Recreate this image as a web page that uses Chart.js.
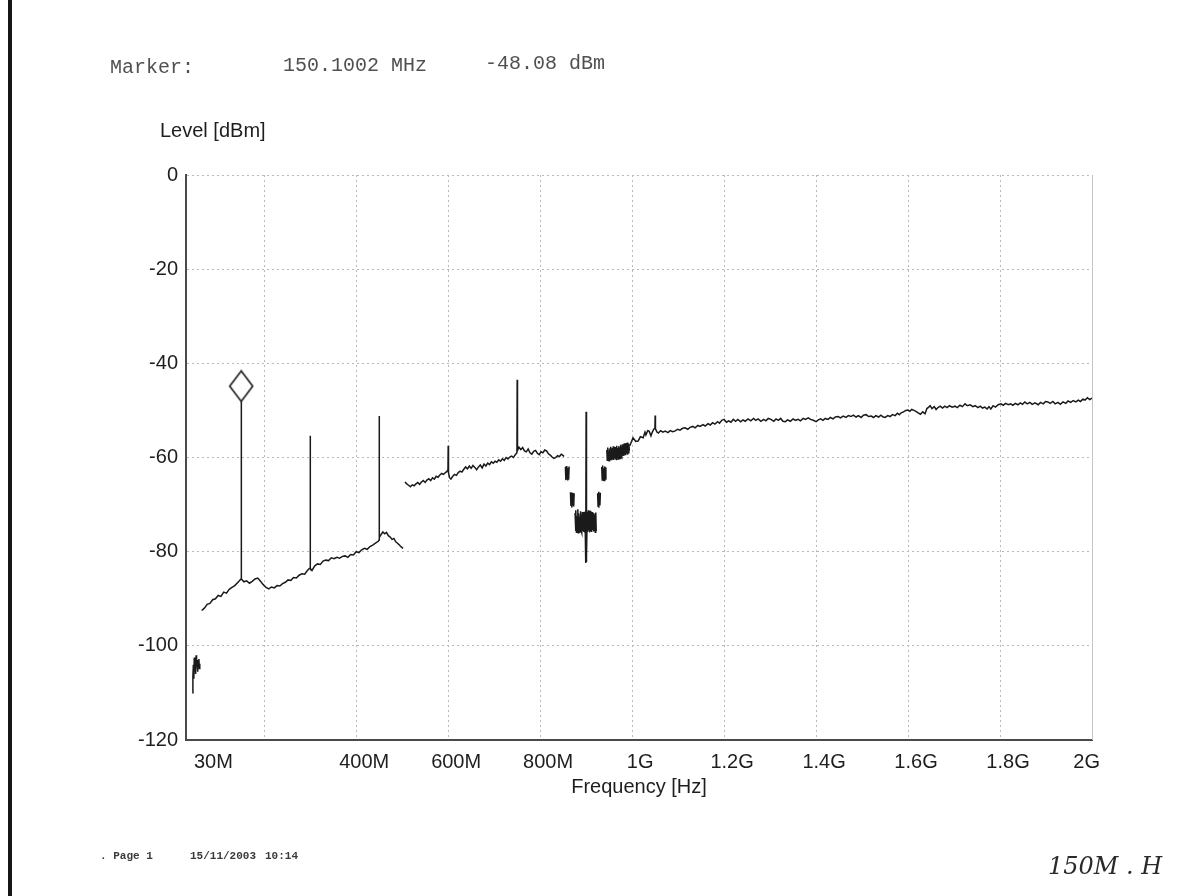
<!DOCTYPE html>
<html><head><meta charset="utf-8">
<script src="https://cdn.jsdelivr.net/npm/chart.js@4.4.1/dist/chart.umd.min.js"></script>
<style>html,body{margin:0;padding:0;background:#fff;}canvas{display:block;}</style>
</head><body>
<canvas id="c" width="1200" height="896"></canvas>
<script>
// ---- axis ticks ----
const xTickValues = [30,200,400,600,800,1000,1200,1400,1600,1800,2000];
const xTickLabels = ['30M','','400M','600M','800M','1G','1.2G','1.4G','1.6G','1.8G','2G'];
const yTickValues = [0,-20,-40,-60,-80,-100,-120];

// ---- marker ----
const markerFreq = [150.1002];
const markerLevel = [-48.08];

// ---- trace: short burst near start (MHz / dBm) ----
const blipFreq = [44,45,46,47,48,49,50,51,52,53,54,55,56,57,58,59,60];
const blipLevel = [-110,-106.5,-104,-107,-102.5,-105.5,-103,-106,-102,-104.5,-103,-105.5,-103.5,-104.5,-102.8,-104.8,-103.8];

// ---- trace: low band 60-500 MHz ----
const lowFreq = [
 64,70,76,82,88,94,100,106,112,118,
 124,130,136,142,146,149.6,150.1,150.6,156,162,
 168,174,180,186,192,198,204,210,216,222,
 228,234,240,246,252,258,264,270,276,282,
 288,294,298,299.7,300.1,300.5,304,310,316,322,
 328,334,340,346,352,358,364,370,376,382,
 388,394,400,406,412,418,424,430,436,442,
 448,449.7,450.1,450.5,454,458,462,466,470,474,
 478,482,486,490,494,498,502];
const lowLevel = [
 -92.5,-92.0,-91.2,-91.0,-90.2,-90.0,-89.3,-89.5,-88.6,-88.8,
 -88.0,-87.6,-87.2,-86.6,-86.2,-85.8,-48.08,-85.8,-86.4,-86.2,
 -86.7,-86.3,-85.8,-85.6,-86.3,-87.0,-87.6,-87.9,-87.5,-87.7,
 -87.2,-87.3,-86.8,-86.5,-86.0,-86.1,-85.5,-85.6,-85.0,-84.7,
 -84.8,-84.0,-83.6,-83.5,-55.4,-83.6,-84.0,-83.0,-82.6,-82.7,
 -82.0,-81.8,-81.9,-81.3,-81.5,-81.2,-81.4,-81.0,-80.9,-81.2,
 -80.6,-80.7,-80.0,-80.2,-79.6,-79.3,-79.5,-78.9,-78.6,-78.2,
 -77.8,-77.5,-51.2,-77.0,-76.4,-75.8,-76.2,-75.9,-76.6,-76.9,
 -77.4,-77.2,-77.9,-78.2,-78.6,-79.0,-79.3];

// ---- trace: mid band 500-852 MHz ----
const midFreq = [
 506,510,514,518,522,526,530,534,538,542,
 546,550,554,558,562,566,570,574,578,582,
 586,590,594,597,599.6,600.1,600.8,603,606,610,
 614,618,622,626,630,634,638,642,646,650,
 654,658,662,666,670,674,678,682,686,690,
 694,698,702,706,710,714,718,722,726,730,
 734,738,742,746,749.6,750.1,750.8,754,758,762,
 766,770,774,778,782,786,790,794,798,802,
 806,810,814,818,822,826,830,834,838,842,
 846,849,852];
const midLevel = [
 -65.2,-65.6,-65.9,-66.2,-65.8,-66.0,-65.6,-65.3,-65.7,-65.2,
 -64.9,-65.3,-64.8,-64.5,-64.9,-64.3,-64.6,-64.0,-64.2,-63.7,
 -63.4,-63.6,-63.2,-63.0,-62.6,-57.5,-63.2,-64.3,-64.6,-64.0,
 -63.6,-63.8,-63.2,-62.9,-63.1,-62.5,-62.0,-62.4,-61.8,-62.3,
 -61.7,-62.1,-62.6,-62.0,-61.6,-62.2,-61.4,-61.8,-61.2,-61.5,
 -60.9,-61.2,-60.8,-61.0,-60.5,-60.8,-60.3,-60.6,-60.0,-60.3,
 -59.9,-59.7,-60.0,-59.4,-59.0,-43.5,-58.5,-57.8,-58.3,-57.9,
 -58.6,-58.8,-58.2,-59.0,-59.3,-58.7,-58.5,-59.1,-59.4,-58.8,
 -59.0,-58.4,-58.6,-59.2,-59.5,-59.9,-60.2,-60.0,-59.6,-59.8,
 -59.3,-59.5,-59.8];

// ---- trace: notch 855-995 MHz, sampled in bursts (null = no trace) ----
const dipFreq = [
 854,855,856,857,858,859,860,861,862,863,864,
 865,866,867,868,869,870,871,872,873,874,875,
 876,877,878,879,880,881,882,883,884,885,886,887,888,889,
 890,891,892,893,894,895,896,897,898,898.6,
 899.2,899.7,900,900.3,900.8,901.4,902,903,904,905,
 906,907,908,909,910,911,912,913,914,915,
 916,917,918,919,920,921,922,923,
 924,925,926,927,928,929,930,931,932,
 933,934,935,936,937,938,939,940,941,942,943,944,
 945,946,947,948,949,950,951,952,953,954,
 955,956,957,958,959,960,961,962,963,964,
 965,966,967,968,969,970,971,972,973,974,
 975,976,977,978,979,980,981,982,983,984,
 985,986,987,988,989,990,991,992,993,994];
const dipLevel = [
 null,-62.0,-64.8,-61.8,-64.6,-62.2,-64.9,-62.5,-64.7,-61.9,null,
 null,-67.4,-70.3,-67.8,-70.6,-67.5,-70.2,-68.0,-70.4,-67.6,null,
 -71.8,-75.6,-71.2,-75.9,-72.4,-75.4,-71.0,-76.0,-71.9,-75.7,-72.6,-75.8,-71.4,-75.5,
 -72.1,-76.0,-71.6,-75.6,-72.3,-75.8,-71.5,-75.9,-74.5,-81.5,
 -77.5,-82.4,-50.3,-82.2,-78.0,-81.0,-74.0,-71.5,-75.8,-71.2,
 -75.5,-72.2,-75.9,-71.3,-75.6,-72.0,-75.8,-71.6,-75.4,-72.4,
 -75.7,-71.8,-75.5,-72.1,-75.9,-71.7,-75.6,null,
 null,-67.6,-70.4,-67.3,-70.5,-67.9,-70.2,-67.5,null,
 null,-62.0,-64.8,-61.7,-64.6,-62.3,-64.9,-61.9,-64.5,-62.1,-64.7,null,
 -58.4,-60.6,-57.9,-60.3,-58.6,-60.7,-58.1,-60.4,-57.7,-60.2,
 -58.5,-60.6,-58.0,-60.3,-57.6,-60.5,-58.3,-60.1,-57.8,-60.4,
 -58.2,-60.6,-57.5,-60.0,-58.0,-60.3,-57.6,-59.9,-57.9,-60.2,
 -57.3,-59.8,-57.7,-60.0,-57.2,-59.6,-57.5,-59.7,-57.0,-59.4,
 -57.2,-59.5,-56.9,-59.2,-57.3,-59.4,-56.8,-59.0,-57.1,-58.6];

// ---- trace: high band 1-2 GHz ----
const highFreq = [
 995,1002,1008,1013,1018,1024,1028,1030,1034,1037,
 1041,1044,1047,1049.6,1050.1,1050.8,1054,1057,1062,1067,
 1072,1078,1083,1088,1093,1099,1104,1110,1115,1121,
 1126,1132,1137,1143,1148,1154,1159,1165,1170,1175,
 1180,1186,1190,1195,1200,1205,1210,1215,1220,1225,
 1230,1236,1241,1246,1252,1258,1264,1269,1274,1280,
 1286,1291,1296,1302,1308,1313,1318,1323,1328,1333,
 1338,1344,1350,1355,1361,1366,1372,1377,1383,1388,
 1394,1400,1405,1410,1415,1420,1426,1431,1437,1442,
 1448,1453,1459,1465,1470,1476,1481,1487,1492,1498,
 1503,1509,1514,1520,1525,1530,1536,1541,1546,1550,
 1556,1561,1566,1572,1577,1581,1585,1590,1595,1600,
 1604,1608,1613,1617,1622,1627,1632,1637,1641,1645,
 1648,1652,1657,1661,1665,1670,1675,1680,1685,1690,
 1696,1702,1707,1713,1718,1724,1729,1735,1741,1746,
 1752,1757,1762,1767,1772,1776,1780,1785,1790,1796,
 1802,1807,1812,1818,1823,1828,1833,1839,1844,1849,
 1854,1859,1865,1870,1876,1883,1888,1894,1899,1904,
 1909,1915,1920,1926,1931,1937,1943,1948,1954,1959,
 1965,1970,1975,1980,1985,1990,1995,2000];
const highLevel = [
 -57.5,-55.8,-56.6,-56.5,-55.6,-55.8,-54.6,-55.2,-54.3,-54.4,
 -55.4,-54.6,-54.0,-53.8,-51.1,-53.9,-54.6,-54.8,-54.3,-54.6,
 -54.4,-54.7,-54.3,-54.5,-54.4,-54.0,-54.2,-53.8,-53.7,-54.0,
 -53.6,-53.4,-53.7,-53.2,-53.4,-53.0,-53.3,-52.8,-53.1,-52.6,
 -52.9,-52.4,-52.7,-52.1,-51.9,-52.5,-52.2,-52.5,-51.9,-52.3,
 -51.9,-52.4,-52.0,-52.3,-51.8,-52.2,-51.7,-52.1,-51.8,-52.3,
 -51.9,-52.2,-51.7,-51.9,-52.3,-51.8,-52.1,-51.7,-52.3,-52.4,
 -52.0,-52.3,-51.8,-52.1,-51.9,-52.2,-51.7,-51.9,-51.6,-51.9,
 -52.1,-52.4,-52.0,-51.8,-52.1,-51.7,-51.9,-51.5,-51.8,-51.4,
 -51.3,-51.6,-51.2,-51.5,-51.1,-51.3,-51.0,-51.4,-51.1,-51.5,
 -51.0,-50.9,-51.3,-51.2,-51.5,-51.1,-51.4,-51.0,-51.4,-51.5,
 -51.1,-51.3,-50.9,-51.1,-50.6,-50.9,-50.5,-50.3,-50.0,-49.9,
 -50.2,-49.8,-50.0,-50.2,-50.5,-50.8,-50.3,-50.7,-49.6,-49.3,
 -49.0,-49.6,-49.2,-49.8,-49.4,-49.1,-49.5,-49.1,-49.4,-49.0,
 -49.3,-49.1,-49.4,-48.9,-49.2,-48.6,-49.0,-48.8,-49.2,-49.0,
 -49.4,-49.1,-49.5,-49.3,-49.7,-49.2,-49.7,-49.0,-49.3,-48.8,
 -48.6,-48.9,-48.5,-48.8,-48.6,-48.9,-48.5,-48.8,-48.4,-48.7,
 -48.2,-48.6,-48.3,-48.7,-48.4,-48.8,-48.3,-48.6,-48.1,-48.2,
 -48.5,-48.1,-48.6,-48.3,-48.7,-48.2,-48.5,-48.0,-48.3,-47.9,
 -48.2,-47.8,-48.1,-47.6,-47.8,-47.3,-47.7,-47.4];

// ---- page texts ----
const headerLabel = 'Marker:';
const yTitle = 'Level [dBm]';
const xTitle = 'Frequency [Hz]';
const footerParts = ['. Page 1', '15/11/2003', '10:14'];
const handNote = '150M . H';

const SANS = '"Liberation Sans", Arial, sans-serif';
const MONO = '"Liberation Mono", "DejaVu Sans Mono", monospace';

function toPoints(fs, ls) { return fs.map((f, i) => ({x: f, y: ls[i]})); }

function diamondImage() {
  const cv = document.createElement('canvas');
  cv.width = 26; cv.height = 64;
  const g = cv.getContext('2d');
  g.fillStyle = '#fff'; g.strokeStyle = '#1a1a1a'; g.lineWidth = 1.6;
  g.beginPath();
  g.moveTo(13, 1.5); g.lineTo(24.5, 16.8); g.lineTo(13, 32); g.lineTo(1.5, 16.8);
  g.closePath(); g.fill(); g.stroke();
  return cv;
}

const traceStyle = {borderColor: '#1a1a1a', borderWidth: 1.5, pointRadius: 0, tension: 0, spanGaps: false, order: 1, fill: false};

const pagePlugin = {
  id: 'page',
  beforeDraw(chart) {
    const c = chart.ctx; c.save(); c.fillStyle = '#fff'; c.fillRect(0, 0, chart.width, chart.height); c.restore();
  },
  afterDraw(chart) {
    const c = chart.ctx, a = chart.chartArea;
    c.save();
    c.strokeStyle = '#c4c4c4'; c.lineWidth = 1;
    c.beginPath(); c.moveTo(a.right + 0.5, a.top); c.lineTo(a.right + 0.5, a.bottom); c.stroke();
    c.fillStyle = '#161616'; c.fillRect(8, 0, 4, chart.height);
    c.textBaseline = 'middle'; c.textAlign = 'left';
    c.font = '20px ' + MONO; c.fillStyle = '#505050';
    c.fillText(headerLabel, 110, 68);
    c.fillText(markerFreq[0].toFixed(4) + ' MHz', 283, 66);
    c.fillText(markerLevel[0].toFixed(2) + ' dBm', 485, 64);
    c.font = '20px ' + SANS; c.fillStyle = '#1e1e1e';
    c.fillText(yTitle, 160, 131);
    c.font = 'bold 11px ' + MONO; c.fillStyle = '#3a3a3a';
    c.fillText(footerParts[0], 100, 856);
    c.fillText(footerParts[1], 190, 856);
    c.fillText(footerParts[2], 265, 856);
    c.font = 'italic 24px "DejaVu Serif", serif'; c.fillStyle = '#2a2a2a';
    c.fillText(handNote, 1048, 868);
    c.restore();
  }
};

const gridCommon = {color: '#b9b9b9', lineWidth: 1, drawTicks: false, tickLength: 0};
const borderCommon = {display: true, color: '#4a4a4a', width: 2, dash: [2, 3]};
const tickFont = {family: SANS, size: 20};

new Chart(document.getElementById('c'), {
  type: 'line',
  data: {
    datasets: [
      {label: 'marker', data: toPoints(markerFreq, markerLevel), showLine: false, pointStyle: diamondImage(), pointRadius: 5, order: 0},
      Object.assign({label: 'burst', data: toPoints(blipFreq, blipLevel)}, traceStyle),
      Object.assign({label: 'low', data: toPoints(lowFreq, lowLevel)}, traceStyle),
      Object.assign({label: 'mid', data: toPoints(midFreq, midLevel)}, traceStyle),
      Object.assign({label: 'notch', data: toPoints(dipFreq, dipLevel)}, traceStyle),
      Object.assign({label: 'high', data: toPoints(highFreq, highLevel)}, traceStyle)
    ]
  },
  options: {
    responsive: false, animation: false, devicePixelRatio: 1,
    layout: {padding: {left: 0, right: 108, top: 175, bottom: 97}},
    plugins: {legend: {display: false}, tooltip: {enabled: false}},
    scales: {
      x: {
        type: 'linear', min: 30, max: 2000,
        afterBuildTicks: s => { s.ticks = xTickValues.map(v => ({value: v})); },
        afterFit: s => { s.height = 59; },
        grid: gridCommon, border: borderCommon,
        ticks: {autoSkip: false, maxRotation: 0, minRotation: 0, align: 'inner', labelOffset: 8, padding: 10,
                color: '#1e1e1e', font: tickFont, callback: (v, i) => xTickLabels[i]},
        title: {display: true, text: xTitle, color: '#1e1e1e', font: tickFont, padding: {top: 0, bottom: 0}}
      },
      y: {
        type: 'linear', min: -120, max: 0,
        afterBuildTicks: s => { s.ticks = yTickValues.map(v => ({value: v})); },
        afterFit: s => { s.width = 186; },
        grid: gridCommon, border: borderCommon,
        ticks: {padding: 8, color: '#1e1e1e', font: tickFont, callback: v => String(v)}
      }
    }
  },
  plugins: [pagePlugin]
});
</script>
</body></html>
